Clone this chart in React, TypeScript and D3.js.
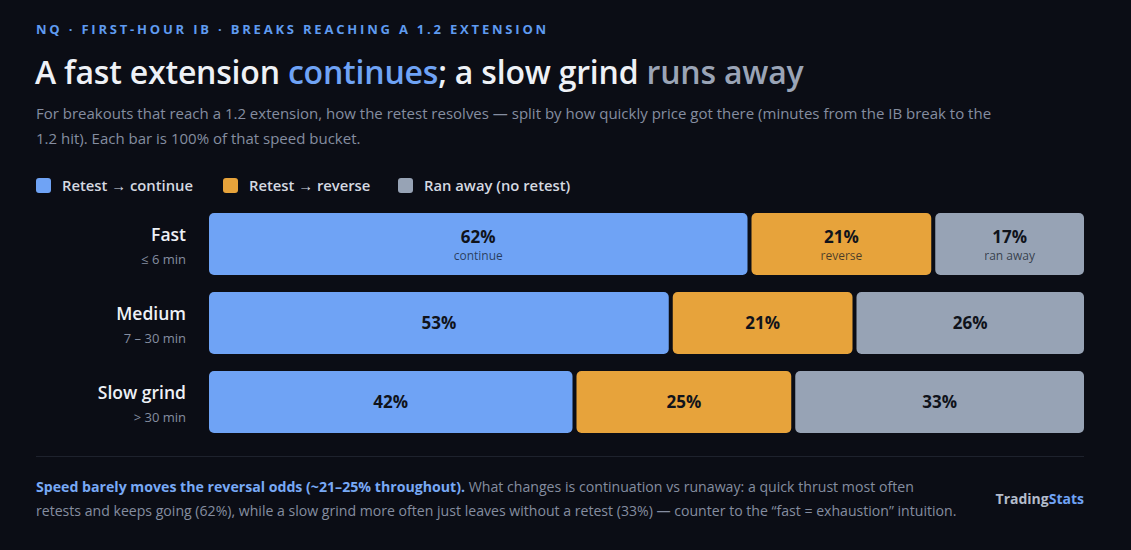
import * as d3 from "d3";

const rows = ["Fast", "Medium", "Slow grind"];
const rowRanges = ["≤ 6 min", "7 – 30 min", "> 30 min"];
const series = ["continue", "reverse", "ranAway"];
const seriesLegend = ["Retest → continue", "Retest → reverse", "Ran away (no retest)"];
const seriesShort = ["continue", "reverse", "ran away"];
const continueVals = [62, 53, 42];
const reverseVals = [21, 21, 25];
const ranAwayVals = [17, 26, 33];
const colors = ["#6fa3f5", "#e7a33b", "#97a3b5"];

const FONT = "'Open Sans', 'Noto Sans', sans-serif";

export default function App() {
  const W = 1131;
  const H = 550;
  const x = d3.scaleLinear().domain([0, 100]).range([209, 1084]);
  const y = d3.scaleBand<string>().domain(rows).range([213, 433]).paddingInner(17 / 79).paddingOuter(0);
  const gap = 4;

  const table = rows.map((r, i) => {
    const vals = [continueVals[i], reverseVals[i], ranAwayVals[i]];
    const stacked = d3.cumsum(vals);
    return vals.map((v, j) => ({ row: r, idx: i, key: series[j], j, v, x0: stacked[j] - v, x1: stacked[j] }));
  });

  const legendX = [36, 223, 398];

  return (
    <svg width={W} height={H} style={{ position: "fixed", left: 0, top: 0, background: "#0b0d15" }} fontFamily={FONT}>
      <rect width={W} height={H} fill="#0b0d15" />
      <text x={36} y={34} fill="#5f9bf0" fontSize={13} fontWeight={700} letterSpacing={2.8}>
        NQ · FIRST-HOUR IB · BREAKS REACHING A 1.2 EXTENSION
      </text>
      <text x={35} y={84} fontSize={32} fontWeight={600} fill="#eef1f6" letterSpacing={-0.2}>
        A fast extension <tspan fill="#6fa3f5">continues</tspan>; a slow grind{" "}
        <tspan fill="#9aa4b6">runs away</tspan>
      </text>
      <text x={36} y={119} fontSize={15} fill="#858da0">
        For breakouts that reach a 1.2 extension, how the retest resolves — split by how quickly price got there (minutes from the IB break to the
      </text>
      <text x={36} y={144} fontSize={15} fill="#858da0">
        1.2 hit). Each bar is 100% of that speed bucket.
      </text>

      {seriesLegend.map((s, j) => (
        <g key={s}>
          <rect x={legendX[j]} y={178} width={15} height={15} rx={3} fill={colors[j]} />
          <text x={legendX[j] + 26} y={191} fontSize={14.8} fontWeight={600} fill="#d5d9e1">
            {s}
          </text>
        </g>
      ))}

      {table.map((segs, i) => {
        const r = rows[i];
        const y0 = y(r) as number;
        const bh = y.bandwidth();
        return (
          <g key={r}>
            <text x={186} y={y0 + 28} textAnchor="end" fontSize={17.5} fontWeight={600} fill="#eef1f6">
              {r}
            </text>
            <text x={186} y={y0 + 51} textAnchor="end" fontSize={13} fill="#858da0">
              {rowRanges[i]}
            </text>
            {segs.map((s) => {
              const sx = x(s.x0);
              const ex = s.j === 2 ? x(s.x1) : x(s.x1) - gap;
              const cx = (sx + ex) / 2;
              return (
                <g key={s.key}>
                  <rect x={sx} y={y0} width={ex - sx} height={bh} rx={5} fill={colors[s.j]} />
                  {i === 0 ? (
                    <>
                      <text x={cx} y={y0 + 30} textAnchor="middle" fontSize={17} fontWeight={700} fill="#10131b">
                        {s.v}%
                      </text>
                      <text x={cx} y={y0 + 47} textAnchor="middle" fontSize={12} fill="#0c1322" fillOpacity={0.72}>
                        {seriesShort[s.j]}
                      </text>
                    </>
                  ) : (
                    <text x={cx} y={y0 + bh / 2 + 6} textAnchor="middle" fontSize={17} fontWeight={700} fill="#10131b">
                      {s.v}%
                    </text>
                  )}
                </g>
              );
            })}
          </g>
        );
      })}

      <line x1={36} x2={1084} y1={456.5} y2={456.5} stroke="#1e222d" strokeWidth={1} />
      <text x={36} y={492} fontSize={14.15} fill="#858da0">
        <tspan fill="#78a9f5" fontWeight={700}>Speed barely moves the reversal odds (~21–25% throughout).</tspan> What changes is continuation vs runaway: a quick thrust most often
      </text>
      <text x={36} y={516} fontSize={14.1} fill="#858da0">
        retests and keeps going (62%), while a slow grind more often just leaves without a retest (33%) — counter to the “fast = exhaustion” intuition.
      </text>
      <text x={1084} y={504} textAnchor="end" fontSize={14} fontWeight={700} fill="#b4bccb">
        Trading<tspan fill="#6fa3f5">Stats</tspan>
      </text>
    </svg>
  );
}
